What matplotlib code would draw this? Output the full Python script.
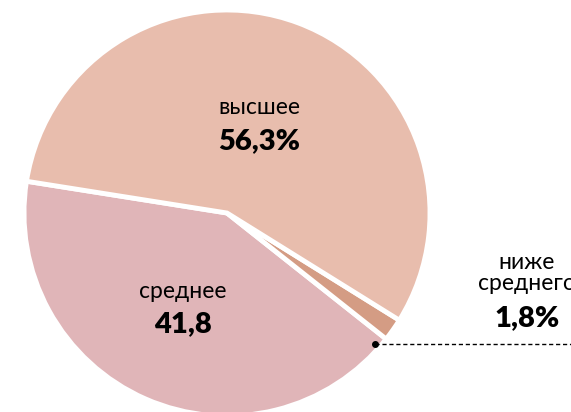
import matplotlib.pyplot as plt

# education level shares
labels = ['среднее', 'ниже\nсреднего', 'высшее']
values = [41.8, 1.8, 56.3]
value_text = ['41,8', '1,8%', '56,3%']
colors = ['#E0B5B8', '#D49C84', '#E8BDAD']

plt.rcParams['font.family'] = ['Lato', 'DejaVu Sans']

fig = plt.figure(figsize=(5.71, 4.12), dpi=100)
ax = fig.add_axes([0, 0, 1, 1])

# pixel-like coordinates, y up
cx, cy, r = 227, 199, 203
ax.pie(values, colors=colors, startangle=171, counterclock=True,
       center=(cx, cy), radius=r, frame=True,
       wedgeprops=dict(edgecolor='white', linewidth=3.5))

ax.set_xlim(0, 571)
ax.set_ylim(0, 412)
ax.set_aspect('equal')
ax.axis('off')

# labels inside the big slices
ax.text(259, 412 - 107, labels[2], ha='center', va='center', fontsize=16.5)
ax.text(259, 412 - 141, value_text[2], ha='center', va='center',
        fontsize=21, fontweight='heavy')
ax.text(183, 412 - 291, labels[0], ha='center', va='center', fontsize=16.5)
ax.text(183, 412 - 324, value_text[0], ha='center', va='center',
        fontsize=21, fontweight='heavy')

# leader for the tiny slice
ax.plot([375, 571], [412 - 344, 412 - 344], color='black', lw=1,
        linestyle=(0, (3, 2)), clip_on=False)
ax.plot([375], [412 - 344], 'o', color='black', ms=4)
ax.text(527, 412 - 273, labels[1], ha='center', va='center', fontsize=16.5,
        linespacing=1.05)
ax.text(527, 412 - 318, value_text[1], ha='center', va='center',
        fontsize=21, fontweight='heavy')

fig.savefig('out.png', dpi=100)
